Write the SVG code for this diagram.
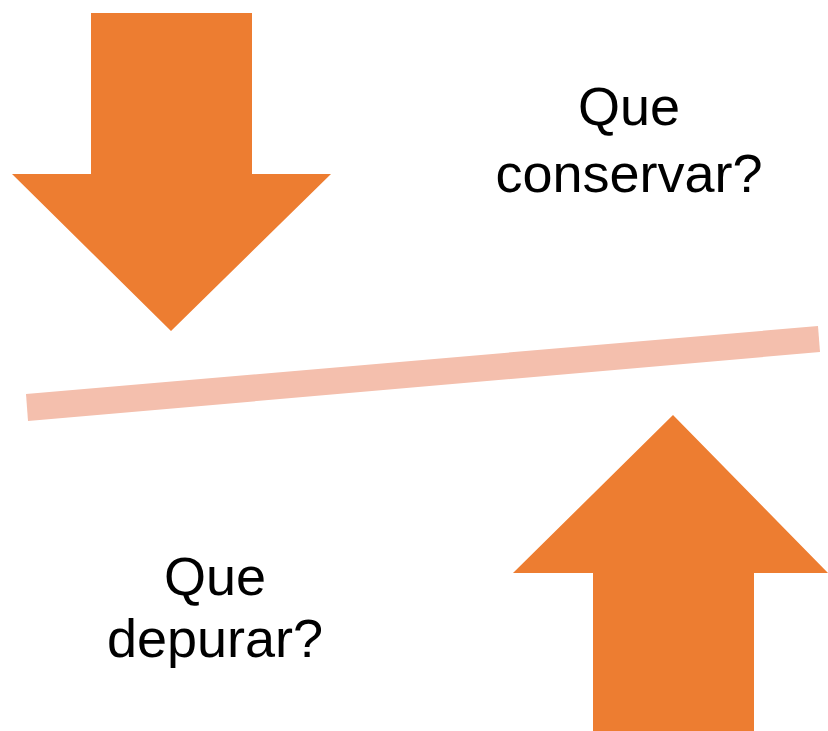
<svg xmlns="http://www.w3.org/2000/svg" width="828" height="731" viewBox="0 0 828 731">
<style>
.arrow{fill:#ED7D31}
.bar{fill:#F4BFAD}
.t{font-family:"Liberation Sans",Arial,sans-serif;font-size:54px;fill:#000;text-anchor:middle}
</style>
<rect width="828" height="731" fill="#fff"/>
<g id="divider"><polygon class="bar" points="26,394 818,326 820,352 28,421"/></g>
<g id="arrow-down"><polygon class="arrow" points="91,13 252,13 252,174 331,174 171,331 12,174 91,174"/></g>
<g id="arrow-up"><polygon class="arrow" points="673,415 828,573 754,573 754,731 593,731 593,573 513,573"/></g>
<g id="label-conservar"><text class="t" x="629" y="125">Que</text><text class="t" x="629" y="192">conservar?</text></g>
<g id="label-depurar"><text class="t" x="215" y="595">Que</text><text class="t" x="215" y="657">depurar?</text></g>
</svg>
